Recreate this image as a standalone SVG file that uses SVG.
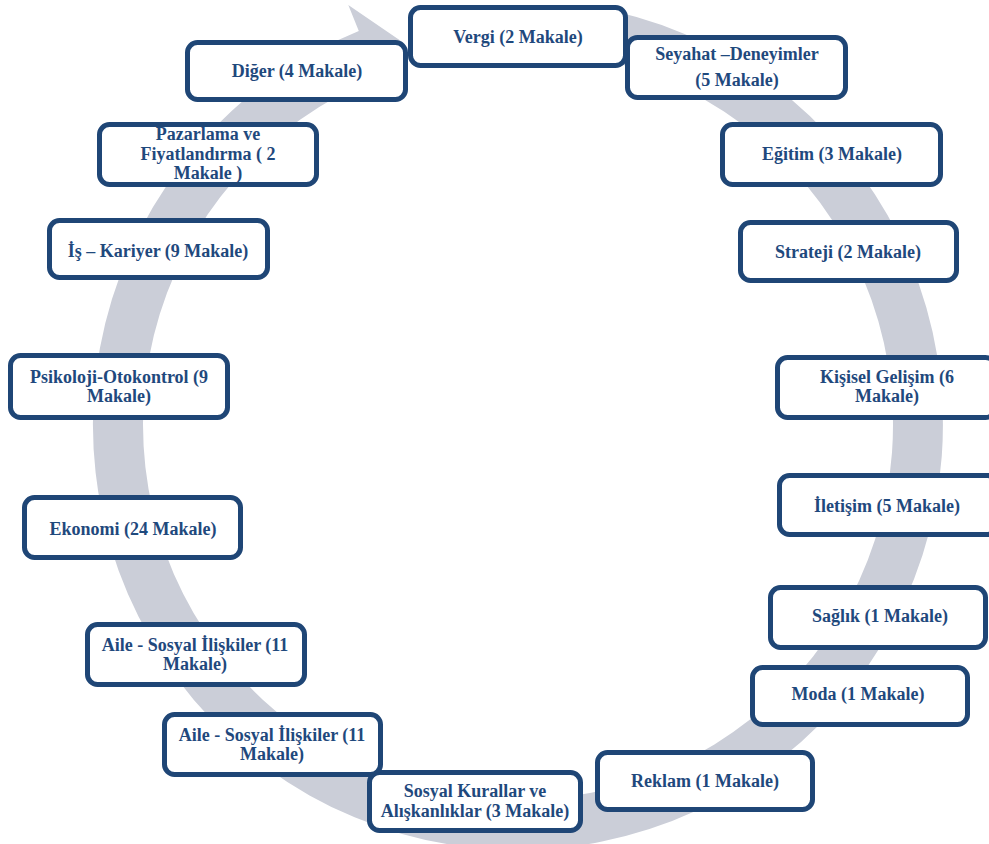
<svg xmlns="http://www.w3.org/2000/svg" width="989" height="844" viewBox="0 0 989 844">
<style>
.box{fill:#ffffff;stroke:#1f4676;stroke-width:5}
.t{font-family:"Liberation Serif","Times New Roman","DejaVu Serif",serif;font-weight:bold;font-size:18px;fill:#1f497d;text-anchor:middle}
</style>
<rect width="989" height="844" fill="#ffffff"/>
<g id="connectors">
<path id="cycle-arrow" fill="#cbced8" d="M613.6,10.9 A425,425 0 1 1 358.8,30.9 L348.3,5 L402.4,42.1 L386.1,98.6 L377.5,77.3 A375,375 0 1 0 602.4,59.6 Z"/>
</g>
<g id="n-vergi"><rect class="box" x="410.5" y="7.5" width="215" height="58" rx="10"/><text class="t" x="518" y="43">Vergi (2 Makale)</text></g>
<g id="n-seyahat"><rect class="box" x="627.5" y="37.5" width="218" height="60" rx="10"/><text class="t" x="737" y="60">Seyahat –Deneyimler</text><text class="t" x="737" y="86">(5 Makale)</text></g>
<g id="n-egitim"><rect class="box" x="722.5" y="124.5" width="218" height="60" rx="10"/><text class="t" x="832" y="160">Eğitim (3 Makale)</text></g>
<g id="n-strateji"><rect class="box" x="740.5" y="222.5" width="216" height="58" rx="10"/><text class="t" x="848" y="258">Strateji (2 Makale)</text></g>
<g id="n-kisisel"><rect class="box" x="777.5" y="357.5" width="218" height="60" rx="10"/><text class="t" x="887" y="383">Kişisel Gelişim (6</text><text class="t" x="887" y="402">Makale)</text></g>
<g id="n-iletisim"><rect class="box" x="779.5" y="475.5" width="218" height="59" rx="10"/><text class="t" x="887" y="512">İletişim (5 Makale)</text></g>
<g id="n-saglik"><rect class="box" x="770.5" y="587.5" width="215" height="60" rx="10"/><text class="t" x="880" y="622">Sağlık (1 Makale)</text></g>
<g id="n-moda"><rect class="box" x="752.5" y="667.5" width="215" height="57" rx="10"/><text class="t" x="858" y="700">Moda (1 Makale)</text></g>
<g id="n-reklam"><rect class="box" x="597.5" y="752.5" width="215" height="57" rx="10"/><text class="t" x="705" y="787">Reklam (1 Makale)</text></g>
<g id="n-sosyal"><rect class="box" x="369.5" y="772.5" width="211" height="58" rx="10"/><text class="t" x="475" y="797">Sosyal Kurallar ve</text><text class="t" x="475" y="817">Alışkanlıklar (3 Makale)</text></g>
<g id="n-aile2"><rect class="box" x="164.5" y="714.5" width="216" height="60" rx="10"/><text class="t" x="272" y="741">Aile - Sosyal İlişkiler (11</text><text class="t" x="272" y="760">Makale)</text></g>
<g id="n-aile1"><rect class="box" x="87.5" y="624.5" width="217" height="60" rx="10"/><text class="t" x="195" y="651">Aile - Sosyal İlişkiler (11</text><text class="t" x="195" y="670">Makale)</text></g>
<g id="n-ekonomi"><rect class="box" x="24.5" y="497.5" width="216" height="60" rx="10"/><text class="t" x="133" y="535">Ekonomi (24 Makale)</text></g>
<g id="n-psikoloji"><rect class="box" x="10.5" y="355.5" width="217" height="62" rx="10"/><text class="t" x="119" y="383">Psikoloji-Otokontrol (9</text><text class="t" x="119" y="402">Makale)</text></g>
<g id="n-is"><rect class="box" x="49.5" y="220.5" width="218" height="57" rx="10"/><text class="t" x="158" y="257">İş – Kariyer (9 Makale)</text></g>
<g id="n-pazarlama"><rect class="box" x="99.5" y="124.5" width="217" height="60" rx="10"/><text class="t" x="208" y="140">Pazarlama ve</text><text class="t" x="208" y="160">Fiyatlandırma ( 2</text><text class="t" x="208" y="179">Makale )</text></g>
<g id="n-diger"><rect class="box" x="187.5" y="42.5" width="218" height="57" rx="10"/><text class="t" x="297" y="77">Diğer (4 Makale)</text></g>
</svg>
